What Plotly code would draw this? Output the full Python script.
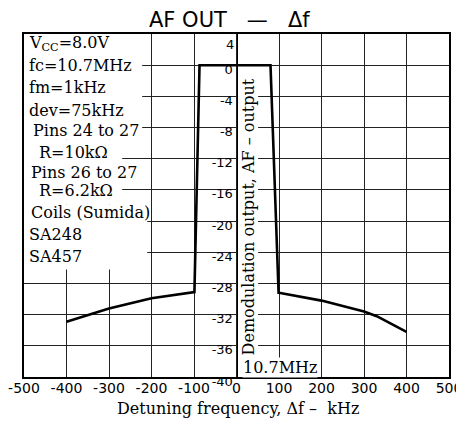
import plotly.graph_objects as go

# ---- data ----
detune_khz = [-400, -350, -300, -200, -100, -99, -87, 80, 99, 100, 200, 300, 330, 400]
af_out_db = [-32.9, -32.0, -31.2, -29.9, -29.1, -29.1, 0.0, 0.0, -29.2, -29.2, -30.2, -31.6, -32.2, -34.2]

x_ticks = [-500, -400, -300, -200, -100, 0, 100, 200, 300, 400, 500]
y_ticks = [0, -4, -8, -12, -16, -20, -24, -28, -32, -36, -40]

cond_lines = ["V<sub>CC</sub>=8.0V", "fc=10.7MHz", "fm=1kHz", "dev=75kHz", "Pins 24 to 27",
              "R=10kΩ", "Pins 26 to 27", "R=6.2kΩ", "Coils (Sumida)", "SA248", "SA457"]
cond_x = [-494, -494, -494, -494, -483, -469, -488, -469, -488, -494, -494]
cond_y = [2.8, 0.0, -2.9, -5.75, -8.35, -11.15, -13.75, -16.1, -18.9, -21.75, -24.55]

SERIF = "DejaVu Serif"
SANS = "DejaVu Sans"

# the page adds an 8px body margin: the figure starts 8px in and is 8px smaller
OFF = 8
PL, PT, PW, PH = 24, 34, 425, 343   # plot area in window pixels

fig = go.Figure()
fig.add_trace(go.Scatter(x=detune_khz, y=af_out_db, mode="lines",
                         line=dict(color="black", width=2.6), showlegend=False, hoverinfo="skip"))
# anchor trace for the centred y axis
fig.add_trace(go.Scatter(x=[None], y=[None], yaxis="y2", showlegend=False, hoverinfo="skip"))

# white panels hiding the grid behind the conditions text
for x1, y0, y1 in [(-222, 4, -9.5), (-269, -9.5, -17.9), (-210, -17.9, -26.2)]:
    fig.add_shape(type="rect", xref="x", yref="y", x0=-500, x1=x1, y0=y0, y1=y1,
                  fillcolor="white", line=dict(width=0), layer="between")

ann = []
for t, x, y in zip(cond_lines, cond_x, cond_y):
    ann.append(dict(text=t, x=x, y=y, xref="x", yref="y", xanchor="left", yanchor="middle",
                    showarrow=False, font=dict(family=SERIF, size=16, color="black")))
ann.append(dict(text="4", x=0, y=2.6, xref="x", yref="y", xanchor="right", yanchor="middle",
                showarrow=False, xshift=-1, font=dict(family=SANS, size=13, color="black")))
ann.append(dict(text="Demodulation output, AF – output", x=27, y=-19.4, xref="x", yref="y",
                textangle=-90, showarrow=False, bgcolor="white", borderpad=0,
                font=dict(family=SERIF, size=16, color="black")))
ann.append(dict(text="10.7MHz", x=13, y=-38.8, xref="x", yref="y", xanchor="left", yanchor="middle",
                showarrow=False, bgcolor="white", borderpad=0,
                font=dict(family=SERIF, size=16, color="black")))
ann.append(dict(text="AF OUT\u00a0\u00a0\u00a0—\u00a0\u00a0\u00a0Δf", x=(229 - PL) / PW, y=1 + (PT - 20) / PH,
                xref="paper", yref="paper", xanchor="center", yanchor="middle",
                showarrow=False, font=dict(family=SANS, size=21, color="black")))
ann.append(dict(text="Detuning frequency, Δf –\u00a0 kHz", x=(238 - PL) / PW, y=-(408 - PT - PH) / PH,
                xref="paper", yref="paper", xanchor="center", yanchor="middle", showarrow=False,
                font=dict(family=SERIF, size=16, color="black")))

W, H = 464 - OFF, 424 - OFF
fig.update_layout(
    width=W, height=H,
    margin=dict(l=PL - OFF, r=W - (PL - OFF) - PW, t=PT - OFF, b=H - (PT - OFF) - PH, autoexpand=False),
    paper_bgcolor="white", plot_bgcolor="white",
    annotations=ann,
    xaxis=dict(range=[-500, 500], tickvals=x_ticks, ticktext=[str(v) for v in x_ticks],
               showgrid=True, gridcolor="#222", gridwidth=1, zeroline=False, automargin=False,
               showline=True, linecolor="black", linewidth=2, mirror=True,
               ticks="", ticklabelstandoff=-3, tickfont=dict(family=SANS, size=14, color="black")),
    yaxis=dict(range=[-40, 4], tickvals=y_ticks, showticklabels=False, automargin=False,
               showgrid=True, gridcolor="#222", gridwidth=1, zeroline=False,
               showline=True, linecolor="black", linewidth=2, mirror=True, ticks=""),
    yaxis2=dict(range=[-40, 4], overlaying="y", anchor="free", position=0.5, side="left",
                tickvals=y_ticks, ticktext=[str(v) for v in y_ticks], automargin=False,
                showgrid=False, zeroline=False, showline=True, linecolor="black", linewidth=1,
                ticks="", ticklabelshift=4, ticklabelstandoff=1,
                tickfont=dict(family=SANS, size=13, color="black")),
)

fig.write_html("out.html")
